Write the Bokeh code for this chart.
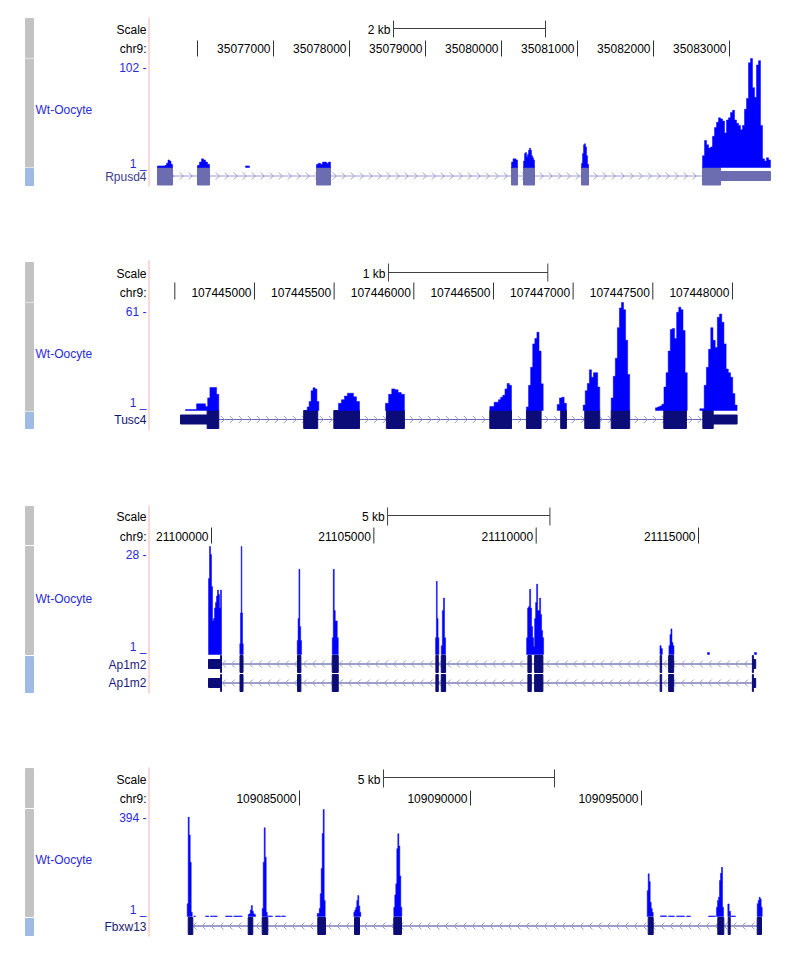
import numpy as np
from bokeh.plotting import figure
from bokeh.models import Range1d
from bokeh.layouts import column
from bokeh.embed import file_html
from bokeh.resources import INLINE
from bokeh.core.properties import value

FONT = "Liberation Sans"
TRACK_LABEL = "Wt-Oocyte"
CHROM_LABEL = "chr9:"

# ================= DATA =================
# ---- Panel 1 : Rpusd4 (plus strand) ----
p1_view = (35073408, 35083934)
p1_ticks = [35076000, 35077000, 35078000, 35079000, 35080000, 35081000, 35082000, 35083000]
p1_tick_labels = ["", "35077000", "35078000", "35079000", "35080000", "35081000", "35082000", "35083000"]
p1_scale = (35078579, 2000, "2 kb")
p1_max = 102
p1_gene = ["Rpusd4"]
p1_strand = "+"
p1_tx = (35075474, 35083539)
p1_exon_start = [35075474, 35076000, 35077566, 35080132, 35080290, 35081053, 35082645]
p1_exon_end = [35075671, 35076158, 35077750, 35080211, 35080434, 35081145, 35082882]
p1_utr_start = [35082882]
p1_utr_end = [35083539]
p1_cov_start = [35075474, 35076000, 35076632, 35077566, 35080132, 35080290, 35081053, 35082645]
p1_cov_end = [35075671, 35076158, 35076684, 35077750, 35080211, 35080434, 35081145, 35083539]
p1_cov_vals = [
    [2.5, 2.5, 2.5, 2.5, 2.5, 3, 5, 8, 7, 4],
    [3, 6, 9, 8, 6, 4],
    [2.5],
    [4, 5, 4, 6, 6, 5, 6],
    [6, 9, 9, 8],
    [7, 14, 15, 11, 13, 17, 19, 17, 12, 10, 8],
    [5, 14, 22, 23, 20, 12, 4],
    [12, 26, 22, 19, 20, 30, 38, 43, 47, 46, 44, 33, 45, 47, 52, 54, 45, 42, 40, 36,
     40, 55, 65, 98, 102, 75, 66, 96, 100, 40, 9, 7, 10, 8],
]

# ---- Panel 2 : Tusc4 (plus strand) ----
p2_view = (107443406, 107448427)
p2_ticks = [107444500, 107445000, 107445500, 107446000, 107446500, 107447000, 107447500, 107448000]
p2_tick_labels = ["", "107445000", "107445500", "107446000", "107446500", "107447000", "107447500", "107448000"]
p2_scale = (107445841, 1000, "1 kb")
p2_max = 61
p2_gene = ["Tusc4"]
p2_strand = "+"
p2_tx = (107444536, 107448029)
p2_exon_start = [107444703, 107445309, 107445498, 107445828, 107446477, 107446707, 107446922, 107447073, 107447239, 107447569, 107447814]
p2_exon_end = [107444776, 107445397, 107445659, 107445941, 107446613, 107446799, 107446958, 107447167, 107447355, 107447711, 107447879]
p2_utr_start = [107444536, 107447879]
p2_utr_end = [107444703, 107448029]
p2_cov_start = [107444567, 107445331, 107445527, 107445822, 107446477, 107446707, 107446900, 107447063, 107447239, 107447517, 107447795]
p2_cov_end = [107444776, 107445404, 107445659, 107445941, 107446613, 107446812, 107446958, 107447167, 107447355, 107447716, 107448029]
p2_cov_vals = [
    [1.5, 1.5, 1.5, 1.5, 1.5, 4.7, 4.7, 4.7, 4.7, 3.2, 8, 13.8, 13.8, 13.8, 10],
    [3, 6, 12, 13.6, 13, 6],
    [5, 7, 9, 10.6, 10.6, 8.6, 6],
    [5, 10, 13, 12.5, 11, 10],
    [3.2, 3.2, 5.6, 5.6, 7, 8.4, 9.5, 13, 16, 15],
    [3, 15, 25, 38, 41, 44.5, 34, 15.8],
    [4.3, 8, 8.4, 5],
    [4, 12, 16, 23.6, 19.5, 22, 22, 14],
    [8, 20, 30, 47, 58, 61, 57, 40, 21],
    [2.5, 3, 3.5, 4.5, 14, 22, 34, 46, 46.6, 41, 55.6, 58.4, 57, 45.4, 22],
    [2, 2, 15, 25, 35, 47, 40, 36, 52.8, 54.6, 50, 38, 24, 22, 19.5, 10.4, 4],
]

# ---- Panel 3 : Ap1m2 (minus strand, two transcripts) ----
p3_view = (21093501, 21118141)
p3_ticks = [21100000, 21105000, 21110000, 21115000]
p3_tick_labels = ["21100000", "21105000", "21110000", "21115000"]
p3_scale = (21105423, 5000, "5 kb")
p3_max = 28
p3_gene = ["Ap1m2", "Ap1m2"]
p3_strand = "-"
p3_tx = (21099908, 21116761)
p3_exon_start = [21100280, 21100878, 21102650, 21103719, 21106911, 21107077, 21109745, 21109952, 21113818, 21114080, 21116659]
p3_exon_end = [21100308, 21100970, 21102753, 21103904, 21106985, 21107210, 21109850, 21110207, 21113865, 21114234, 21116690]
p3_utr_start = [21099908, 21116690]
p3_utr_end = [21100280, 21116761]
p3_cov_start = [21099908, 21100872, 21102640, 21103719, 21106901, 21107077, 21109705, 21113812, 21114089, 21115277, 21116724]
p3_cov_end = [21100308, 21100977, 21102773, 21103904, 21107003, 21107210, 21110229, 21113886, 21114244, 21115338, 21116786]
p3_cov_vals = [
    [20, 28, 26, 18, 9.4, 10, 12.6, 14, 15.6, 17.1, 16, 12.6, 17.1],
    [3.7, 11.4, 28, 11.4, 3.7],
    [4.5, 10, 22.3, 8, 4.5],
    [5.2, 22.3, 12, 9.4, 9.4, 5.2],
    [5.2, 19.3, 10, 5.2],
    [3.2, 12, 15.1, 5.2],
    [5.2, 12.6, 13, 17.3, 12.6, 8, 5.2, 3, 10, 14, 18.6, 12, 12, 15.1, 11, 7, 5.2],
    [3.2, 2.5],
    [3.2, 6, 7.4, 4, 3.2],
    [1.5],
    [1.5],
]

# ---- Panel 4 : Fbxw13 (minus strand) ----
p4_view = (109076257, 109099649)
p4_ticks = [109085000, 109090000, 109095000]
p4_tick_labels = ["109085000", "109090000", "109095000"]
p4_scale = (109087456, 5000, "5 kb")
p4_max = 394
p4_gene = ["Fbxw13"]
p4_strand = "-"
p4_tx = (109081746, 109098509)
p4_exon_start = [109081746, 109083500, 109083909, 109085535, 109086608, 109087757, 109095196, 109097231, 109097535, 109098383]
p4_exon_end = [109081880, 109083634, 109084073, 109085760, 109086754, 109087982, 109095342, 109097407, 109097594, 109098509]
p4_utr_start = []
p4_utr_end = []
p4_cov_start = [109081716, 109083500, 109083909, 109085518, 109086588, 109087757, 109095167, 109097193, 109097524, 109098383,
                109081909, 109082251, 109082398, 109082836, 109083079, 109084064, 109084298, 109084474,
                109095556, 109095790, 109096023, 109096316, 109096959, 109097602]
p4_cov_end = [109081863, 109083713, 109084056, 109085751, 109086792, 109087991, 109095342, 109097398, 109097602, 109098529,
              109081959, 109082348, 109082594, 109083032, 109083325, 109084211, 109084444, 109084591,
              109095731, 109095965, 109096257, 109096433, 109097164, 109097749]
p4_cov_vals = [
    [48, 366, 300, 200, 17],
    [8, 11, 25, 41, 20, 11, 8],
    [30, 200, 327, 219, 17],
    [12, 12, 30, 85, 177, 306, 394, 60],
    [17, 25, 35, 60, 78, 40, 17],
    [35, 80, 121, 250, 305, 260, 150, 35],
    [96, 158, 130, 53, 30, 17],
    [35, 60, 72, 133, 160, 182, 35],
    [47, 20],
    [48, 60, 72, 65, 35],
    [3], [3], [3], [3], [3], [3], [3], [3],
    [3.5], [3], [3], [3], [3], [3],
]

# ================= LAYOUT / STYLE =================
W = 800
X0 = 0  # image x of figure left edge

layouts = [
    dict(y0=0, h=252, bar_y=28, bar_t=(20, 37), scale_ty=29, chr_ty=48, tick=(40, 56),
         top=58, base=167, label_y=109, max_y=67, min_y=163, rows=[175.5], eh=9,
         gene_y=[176], gray=[(18, 57), (58.5, 166.5)], blue=(168, 185), pink=(17, 186)),
    dict(y0=252, h=244, bar_y=272, bar_t=(263, 281), scale_ty=273, chr_ty=292, tick=(282, 299),
         top=302, base=410, label_y=353, max_y=311, min_y=402, rows=[419], eh=9,
         gene_y=[419], gray=[(262, 301), (302.5, 410.5)], blue=(412, 428), pink=(260, 430)),
    dict(y0=496, h=262, bar_y=515, bar_t=(507, 525), scale_ty=516, chr_ty=536, tick=(527, 543),
         top=546, base=654, label_y=598, max_y=554, min_y=646, rows=[663.5, 682.5], eh=8.5,
         gene_y=[664, 682], gray=[(506, 544), (546, 654)], blue=(656, 692), pink=(505, 693)),
    dict(y0=758, h=200, bar_y=777, bar_t=(769, 787), scale_ty=779, chr_ty=798, tick=(790, 805),
         top=809, base=916, label_y=859, max_y=817, min_y=909, rows=[925.5], eh=8.5,
         gene_y=[926], gray=[(768, 807), (809, 916)], blue=(918, 935), pink=(767, 936)),
]

styles = [
    dict(gene="#6c6cb0", intron="#9c9cd4", chev="#9c9cd4", label="#3c3c8c"),
    dict(gene="#0c0c78", intron="#6a6ab4", chev="#9a9acc", label="#14146e"),
    dict(gene="#0c0c78", intron="#3c3c90", chev="#9a9acc", label="#1c1c7c"),
    dict(gene="#0c0c78", intron="#3c3c90", chev="#9a9acc", label="#1c1c70"),
]

data = [
    dict(view=p1_view, ticks=p1_ticks, labels=p1_tick_labels, scale=p1_scale, vmax=p1_max,
         gene=p1_gene, strand=p1_strand, tx=p1_tx, es=p1_exon_start, ee=p1_exon_end,
         us=p1_utr_start, ue=p1_utr_end, cs=p1_cov_start, ce=p1_cov_end, cv=p1_cov_vals),
    dict(view=p2_view, ticks=p2_ticks, labels=p2_tick_labels, scale=p2_scale, vmax=p2_max,
         gene=p2_gene, strand=p2_strand, tx=p2_tx, es=p2_exon_start, ee=p2_exon_end,
         us=p2_utr_start, ue=p2_utr_end, cs=p2_cov_start, ce=p2_cov_end, cv=p2_cov_vals),
    dict(view=p3_view, ticks=p3_ticks, labels=p3_tick_labels, scale=p3_scale, vmax=p3_max,
         gene=p3_gene, strand=p3_strand, tx=p3_tx, es=p3_exon_start, ee=p3_exon_end,
         us=p3_utr_start, ue=p3_utr_end, cs=p3_cov_start, ce=p3_cov_end, cv=p3_cov_vals),
    dict(view=p4_view, ticks=p4_ticks, labels=p4_tick_labels, scale=p4_scale, vmax=p4_max,
         gene=p4_gene, strand=p4_strand, tx=p4_tx, es=p4_exon_start, ee=p4_exon_end,
         us=p4_utr_start, ue=p4_utr_end, cs=p4_cov_start, ce=p4_cov_end, cv=p4_cov_vals),
]


def step_polys(starts, ends, vals_list, base, vmax):
    xs, ys = [], []
    for s, e, vals in zip(starts, ends, vals_list):
        edges = np.linspace(s, e, len(vals) + 1)
        px, py = [edges[0]], [base]
        for i, v in enumerate(vals):
            v = min(v, vmax)
            px += [edges[i], edges[i + 1]]
            py += [v, v]
        px.append(edges[-1])
        py.append(base)
        xs.append(px)
        ys.append(py)
    return xs, ys


def build(d, L, st):
    g0, g1 = d["view"]
    bpp = (g1 - g0) / W
    y0, h = L["y0"], L["h"]
    p = figure(width=W, height=h, x_range=Range1d(g0, g1), y_range=Range1d(y0 + h, y0),
               x_axis_location=None, y_axis_location=None, output_backend="svg",
               toolbar_location=None, min_border=0, outline_line_color=None, tools="")
    p.grid.visible = False
    p.extra_x_ranges = {"px": Range1d(X0, X0 + W)}
    k = (d["vmax"] - 1) / (L["base"] - L["top"])
    a = 1 - k * ((y0 + h) - L["base"])
    p.extra_y_ranges = {"cov": Range1d(a, a + k * h)}

    def ltext(x, y, s, color, align="right"):
        p.text(x=[x], y=[y], text=[s], text_align=align, text_baseline="middle",
               text_font=value(FONT), text_font_size="12px", text_color=color,
               x_range_name="px")

    # left side bars
    for (t, b) in L["gray"]:
        p.quad(left=25, right=33, top=t, bottom=b, color="#c3c3c3", x_range_name="px")
    p.quad(left=25, right=33, top=L["blue"][0], bottom=L["blue"][1], color="#9dbbe5",
           x_range_name="px")
    p.segment(x0=[148.5], x1=[148.5], y0=[L["pink"][0]], y1=[L["pink"][1]],
              line_color="#f0b4b4", line_width=1, x_range_name="px")

    # left labels
    ltext(146, L["scale_ty"], "Scale", "#000000")
    ltext(146, L["chr_ty"], CHROM_LABEL, "#000000")
    ltext(146, L["max_y"], "%d -" % d["vmax"], "#2a2ad8")
    ltext(146, L["min_y"], "1 _", "#2a2ad8")
    ltext(35, L["label_y"], TRACK_LABEL, "#2a2ad8", align="left")
    for gy, gname in zip(L["gene_y"], d["gene"]):
        ltext(146, gy, gname, st["label"])

    # scale bar
    s0, slen, slab = d["scale"]
    p.segment(x0=[s0], x1=[s0 + slen], y0=[L["bar_y"]], y1=[L["bar_y"]],
              line_color="#404040", line_width=1)
    p.segment(x0=[s0, s0 + slen], x1=[s0, s0 + slen], y0=[L["bar_t"][0]] * 2,
              y1=[L["bar_t"][1]] * 2, line_color="#404040", line_width=1)
    p.text(x=[s0], y=[L["scale_ty"]], text=[slab], x_offset=-3, text_align="right",
           text_baseline="middle", text_font=value(FONT), text_font_size="12px",
           text_color="#000000")

    # ruler
    n = len(d["ticks"])
    p.segment(x0=d["ticks"], x1=d["ticks"], y0=[L["tick"][0]] * n, y1=[L["tick"][1]] * n,
              line_color="#303030", line_width=1)
    p.text(x=d["ticks"], y=[L["chr_ty"]] * n, text=d["labels"], x_offset=-3,
           text_align="right", text_baseline="middle", text_font=value(FONT),
           text_font_size="12px", text_color="#000000")

    # gene models
    tx0, tx1 = d["tx"]
    step = 9 * bpp
    centers = np.arange(tx0 + step * 0.7, tx1 - step * 0.3, step)
    sgn = 1 if d["strand"] == "+" else -1
    for cy in L["rows"]:
        p.segment(x0=[tx0], x1=[tx1], y0=[cy], y1=[cy], line_color=st["intron"], line_width=1)
        cxs = [[c - sgn * 2 * bpp, c + sgn * 1.5 * bpp, c - sgn * 2 * bpp] for c in centers]
        cys = [[cy - 3.5, cy, cy + 3.5] for _ in centers]
        p.multi_line(xs=cxs, ys=cys, line_color=st["chev"], line_width=1)
        p.quad(left=d["es"], right=d["ee"], top=[cy - L["eh"]] * len(d["es"]),
               bottom=[cy + L["eh"]] * len(d["es"]), color=st["gene"])
        if d["us"]:
            p.quad(left=d["us"], right=d["ue"], top=[cy - 4.5] * len(d["us"]),
                   bottom=[cy + 4.5] * len(d["us"]), color=st["gene"])

    # coverage
    xs, ys = step_polys(d["cs"], d["ce"], d["cv"], 1, d["vmax"])
    p.patches(xs=xs, ys=ys, fill_color="#0000ff", line_color="#0000ff", line_width=0.5,
              y_range_name="cov")
    return p


figs = [build(d, L, st) for d, L, st in zip(data, layouts, styles)]
page = column(*figs, spacing=0)
open("out.html", "w").write(file_html(page, INLINE))
